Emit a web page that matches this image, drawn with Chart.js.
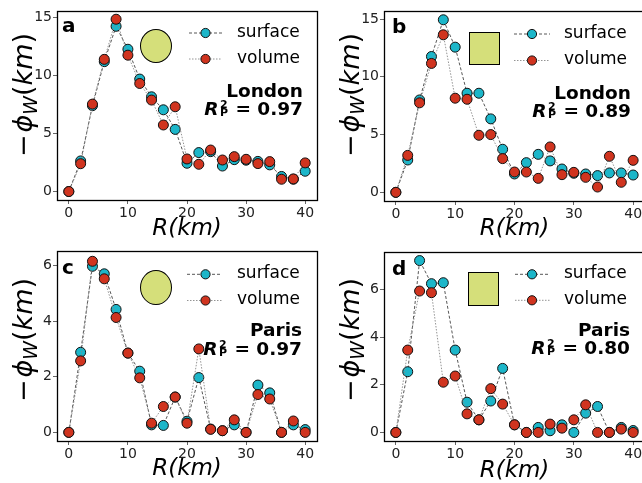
<!DOCTYPE html>
<html><head><meta charset="utf-8">
<script src="https://cdn.jsdelivr.net/npm/chart.js@4"></script>
<style>
html,body{margin:0;padding:0;background:#fff;overflow:hidden;width:642px;height:483px;}
#wrap{position:relative;width:642px;height:483px;overflow:hidden;font-family:"DejaVu Sans";color:#000;}
canvas{position:absolute;}
.yt{position:absolute;font-size:27px;line-height:1;transform:translate(-50%,-50%) rotate(-90deg);white-space:nowrap;}
.yt i{font-style:italic}
.yt sub{font-size:0.7em;vertical-align:-0.28em;line-height:0;font-style:italic}
.lt{position:absolute;font-weight:bold;font-size:20px;line-height:1;}
.ann{position:absolute;font-weight:bold;font-size:18.5px;line-height:1;white-space:nowrap;text-align:right;}
.ss{position:relative;display:inline-block;width:9px;height:13px;margin-left:1.5px;}
.sp{position:absolute;left:0;top:-3px;font-size:11px;line-height:1;}
.sb{position:absolute;left:0;top:4.7px;font-size:11px;line-height:1;}
.lg{position:absolute;font-size:17px;line-height:1;white-space:nowrap;}
.shape{position:absolute;box-sizing:border-box;border:1.5px solid #000;background:#d5df7a;}
svg{position:absolute;overflow:visible;}
</style>
</head><body><div id="wrap">
<canvas id="ca" width="330" height="240" style="left:0;top:0"></canvas>
<canvas id="cb" width="340" height="240" style="left:320px;top:0"></canvas>
<canvas id="cc" width="330" height="243" style="left:0;top:240px"></canvas>
<canvas id="cd" width="340" height="243" style="left:320px;top:240px"></canvas>
<div id="overlay"></div>
</div>
<script>
// ---- data ----
const R = [0,2,4,6,8,10,12,14,16,18,20,22,24,26,28,30,32,34,36,38,40];
const xTicks = [0,10,20,30,40];
const surfaceA = [0,2.64,7.4,11.2,14.25,12.27,9.7,8.17,7.05,5.36,2.44,3.36,3.44,2.2,2.75,2.7,2.6,2.3,1.3,1.06,1.75];
const volumeA  = [0,2.4,7.54,11.4,14.86,11.76,9.32,7.89,5.74,7.31,2.81,2.35,3.58,2.72,3.01,2.78,2.41,2.58,1.06,1.09,2.47];
const yTicksA = [0,5,10,15];
const surfaceB = [0,2.8,8.0,11.76,14.94,12.57,8.58,8.58,6.36,3.73,1.59,2.57,3.29,2.72,2.02,1.65,1.59,1.45,1.68,1.68,1.5];
const volumeB  = [0,3.2,7.75,11.16,13.64,8.15,8.06,4.94,5.0,2.92,1.76,1.76,1.21,3.93,1.53,1.73,1.3,0.46,3.12,0.87,2.77];
const yTicksB = [0,5,10,15];
const surfaceC = [0,2.88,5.97,5.7,4.42,2.85,2.2,0.27,0.25,1.27,0.4,1.97,0.12,0.06,0.27,0,1.7,1.42,0,0.27,0.1];
const volumeC  = [0,2.57,6.15,5.52,4.13,2.85,1.96,0.33,0.93,1.27,0.33,3.0,0.11,0.06,0.45,0,1.36,1.2,0,0.41,0];
const yTicksC = [0,2,4,6];
const surfaceD = [0,2.55,7.22,6.25,6.29,3.46,1.27,0.53,1.32,2.69,0.32,0,0.21,0.07,0.32,0,0.81,1.09,0,0.21,0.08];
const volumeD  = [0,3.46,5.94,5.87,2.11,2.37,0.78,0.53,1.84,1.19,0.32,0,0,0.35,0.18,0.53,1.16,0,0,0.14,0];
const yTicksD = [0,2,4,6];
const seriesNames = ['surface','volume'];
const cities = ['London','London','Paris','Paris'];
const r2 = ['0.97','0.89','0.97','0.80'];
const letters = ['a','b','c','d'];

// ---- styles ----
const CYAN = '#1cb6c9', RED = '#d0341f';
const FONT = 'DejaVu Sans';

const frame = {id:'frame', afterDraw(chart){
  const {ctx, chartArea:a} = chart;
  ctx.save(); ctx.strokeStyle='#000'; ctx.lineWidth=1.3;
  ctx.strokeRect(a.left+0.5, a.top+0.5, a.right-a.left, a.bottom-a.top);
  ctx.restore();
}};

function makeChart(id, surf, vol, yTicks, cfg){
  const axisGrid = {display:true, drawOnChartArea:false, drawTicks:true, tickLength:4, tickColor:'#666', tickWidth:1};
  new Chart(document.getElementById(id), {
    type:'line',
    data:{datasets:[
      {label:seriesNames[0], data:R.map((x,i)=>({x:x,y:surf[i]})), borderColor:'#444', borderWidth:0.9, borderDash:[3,2],
       pointRadius:5, pointBackgroundColor:CYAN, pointBorderColor:'#111', pointBorderWidth:1, tension:0, order:2, fill:false},
      {label:seriesNames[1], data:R.map((x,i)=>({x:x,y:vol[i]})), borderColor:'#888', borderWidth:0.9, borderDash:[1.5,1.5],
       pointRadius:5, pointBackgroundColor:RED, pointBorderColor:'#111', pointBorderWidth:1, tension:0, order:1, fill:false}
    ]},
    options:{
      responsive:false, animation:false, devicePixelRatio:1,
      layout:{padding:{left:0, top:cfg.top, right:cfg.W-cfg.right, bottom:0}},
      plugins:{legend:{display:false}, tooltip:{enabled:false}},
      scales:{
        x:{type:'linear', min:-2, max:42,
          afterBuildTicks:s=>{s.ticks = xTicks.map(v=>({value:v}));},
          afterFit:s=>{s.height = cfg.H-cfg.bottom;},
          grid:axisGrid, border:{display:false},
          ticks:{font:{family:FONT,size:14}, color:'#222', padding:1, maxRotation:0, autoSkip:false},
          title:{display:true, text:'R(km)', color:'#000', font:{family:FONT,size:23,style:'italic',lineHeight:1}, padding:{top:0,bottom:cfg.tpad}}
        },
        y:{type:'linear', min:cfg.ymin, max:cfg.ymax,
          afterBuildTicks:s=>{s.ticks = yTicks.map(v=>({value:v}));},
          afterFit:s=>{s.width = cfg.left;},
          grid:axisGrid, border:{display:false},
          ticks:{font:{family:FONT,size:14}, color:'#222', padding:1, autoSkip:false}
        }
      }
    },
    plugins:[frame]
  });
}

makeChart('ca', surfaceA, volumeA, yTicksA, {W:330,H:240,left:57,right:317,top:11,bottom:200,tpad:-1,ymin:-0.73,ymax:15.57});
makeChart('cb', surfaceB, volumeB, yTicksB, {W:340,H:240,left:64,right:325,top:11,bottom:201,tpad:-1,ymin:-0.75,ymax:15.7});
makeChart('cc', surfaceC, volumeC, yTicksC, {W:330,H:243,left:57,right:317,top:11,bottom:201,tpad:2,ymin:-0.31,ymax:6.52});
makeChart('cd', surfaceD, volumeD, yTicksD, {W:340,H:243,left:64,right:325,top:12,bottom:201,tpad:0,ymin:-0.36,ymax:7.58});

// ---- overlays: labels, legends, shapes ----
const ov = document.getElementById('overlay');
const panels = [
  {yt:[22,95],  letter:[62,15], annRight:303, annTop:[82,100], lg:{x0:189,x1:222,m:205.5,tx:237,y:[33,59]}, shape:{type:'circle',x:140,y:29,w:32,h:34}},
  {yt:[349,95], letter:[392,16], annRight:631, annTop:[84,102], lg:{x0:514,x1:550,m:532,tx:564,y:[34,60.5]}, shape:{type:'square',x:469,y:32,w:31,h:33}},
  {yt:[22,340], letter:[62,257], annRight:302, annTop:[321,340], lg:{x0:187,x1:222,m:205.5,tx:237,y:[274.3,300.5]}, shape:{type:'circle',x:140,y:270,w:32,h:35}},
  {yt:[349,340],letter:[392,258], annRight:630, annTop:[321,339], lg:{x0:515,x1:550,m:532,tx:564,y:[274.3,300.3]}, shape:{type:'square',x:468,y:272,w:31,h:34}}
];
let html = '';
panels.forEach((p,i)=>{
  html += `<div class="yt" style="left:${p.yt[0]}px;top:${p.yt[1]}px">−<i style="margin-left:2px">ϕ</i><sub>W</sub>(<i>km</i>)</div>`;
  html += `<div class="lt" style="left:${p.letter[0]}px;top:${p.letter[1]}px">${letters[i]}</div>`;
  html += `<div class="ann" style="right:${642-p.annRight}px;top:${p.annTop[0]}px">${cities[i]}</div>`;
  html += `<div class="ann" style="right:${642-p.annRight}px;top:${p.annTop[1]}px"><i>R</i><span class="ss"><span class="sp">2</span><span class="sb">P</span></span> = ${r2[i]}</div>`;
  const s = p.shape;
  html += `<div class="shape" style="left:${s.x}px;top:${s.y}px;width:${s.w}px;height:${s.h}px;${s.type==='circle'?'border-radius:50%;':''}"></div>`;
  const L = p.lg;
  [[CYAN,'#444','3,2'],[RED,'#888','1.5,1.5']].forEach((st,k)=>{
    const y = L.y[k];
    html += `<svg style="left:0;top:0" width="1" height="1"><line x1="${L.x0}" y1="${y}" x2="${L.x1}" y2="${y}" stroke="${st[1]}" stroke-width="0.9" stroke-dasharray="${st[2]}"/><circle cx="${L.m}" cy="${y}" r="4.6" fill="${st[0]}" stroke="#111" stroke-width="1"/></svg>`;
    html += `<div class="lg" style="left:${L.tx}px;top:${y-10.5}px">${seriesNames[k]}</div>`;
  });
});
ov.innerHTML = html;
</script>
</body></html>
